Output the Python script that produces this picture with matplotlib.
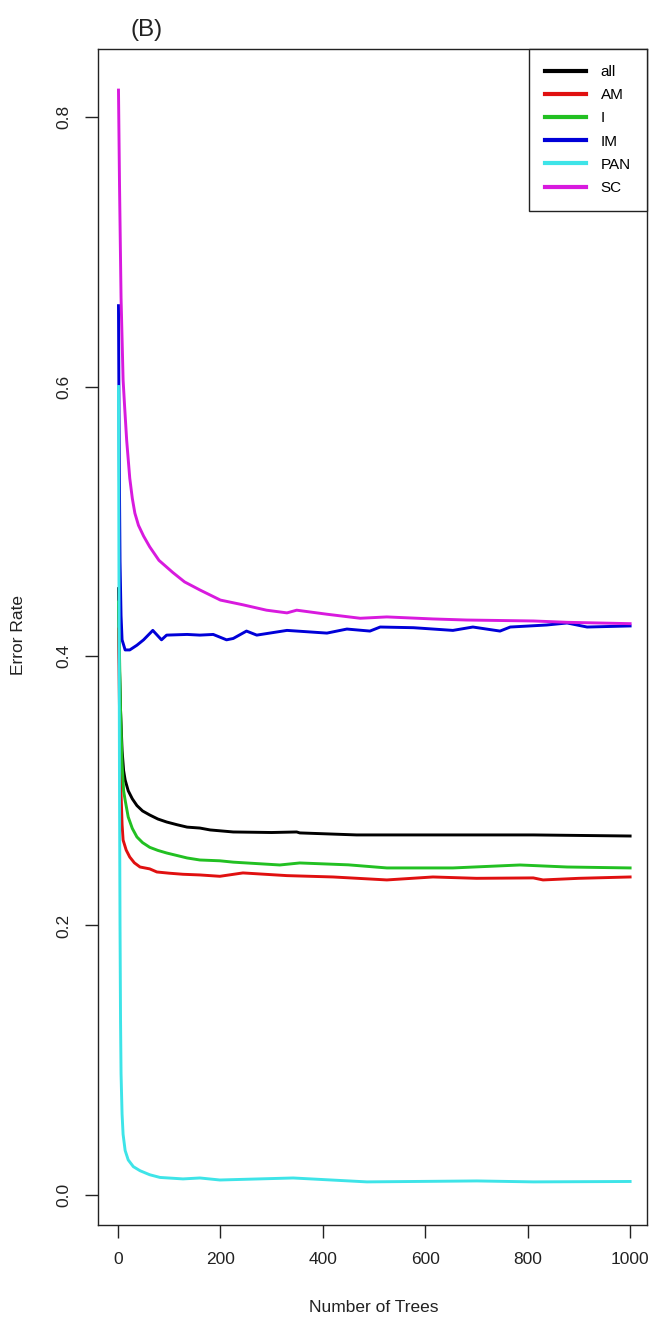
import matplotlib
matplotlib.use('Agg')
import matplotlib.pyplot as plt

plt.rcParams['font.family'] = ['Liberation Sans', 'DejaVu Sans']

# error rate per number of trees
labels = ['all', 'AM', 'I', 'IM', 'PAN', 'SC']
colors = ['#000000', '#e01010', '#22c022', '#0000d8', '#3ee4e8', '#d81ade']

trees_all = [1, 2, 3, 5, 8, 11, 14, 20, 28, 37, 48, 62, 78, 95, 115, 135, 160, 180, 225, 300, 349, 355, 466,
             615, 811, 1000]
err_all = [0.45, 0.42, 0.39, 0.36, 0.33, 0.315, 0.308, 0.300, 0.294, 0.289, 0.285, 0.282, 0.279, 0.2768,
           0.2748, 0.273, 0.2723, 0.2709, 0.2694, 0.2690, 0.2694, 0.2687, 0.2672, 0.2672, 0.2672, 0.2664]

trees_am = [1, 3, 5, 8, 10, 16, 23, 32, 43, 62, 76, 100, 127, 160, 199, 244, 330, 420, 525, 615, 700, 811,
            830, 900, 1000]
err_am = [0.42, 0.36, 0.31, 0.275, 0.2634, 0.256, 0.2508, 0.2465, 0.2434, 0.2420, 0.2397, 0.2388, 0.2380,
          0.2375, 0.2365, 0.2390, 0.2370, 0.2360, 0.2338, 0.2360, 0.2350, 0.2353, 0.2338, 0.2350, 0.2360]

trees_i = [1, 3, 5, 8, 11, 14, 20, 28, 37, 48, 62, 78, 95, 135, 160, 199, 225, 316, 355, 450, 525, 654, 785,
           877, 1000]
err_i = [0.44, 0.40, 0.36, 0.32, 0.30, 0.293, 0.2805, 0.272, 0.2657, 0.2615, 0.258, 0.2557, 0.2538, 0.2501,
         0.2486, 0.2480, 0.2470, 0.2449, 0.2464, 0.2450, 0.2427, 0.2427, 0.2449, 0.2434, 0.2427]

trees_im = [1, 2, 3, 4, 6, 8, 14, 23, 37, 50, 68, 85, 95, 135, 160, 186, 212, 225, 251, 271, 330, 408, 447,
            492, 512, 577, 654, 693, 746, 766, 837, 877, 916, 1000]
err_im = [0.66, 0.58, 0.52, 0.47, 0.43, 0.412, 0.4045, 0.4045, 0.408, 0.412, 0.419, 0.412, 0.4155, 0.416,
          0.4155, 0.416, 0.412, 0.413, 0.4185, 0.4155, 0.419, 0.417, 0.420, 0.4185, 0.4215, 0.421, 0.419,
          0.4215, 0.4185, 0.4215, 0.423, 0.4245, 0.4215, 0.4223]

trees_pan = [1, 2, 3, 4, 5, 6, 8, 10, 14, 20, 30, 43, 62, 82, 127, 160, 199, 342, 486, 701, 811, 1000]
err_pan = [0.60, 0.45, 0.30, 0.20, 0.13, 0.09, 0.06, 0.045, 0.033, 0.026, 0.021, 0.018, 0.015, 0.013, 0.0119,
           0.0126, 0.0111, 0.0126, 0.0097, 0.0104, 0.0097, 0.0100]

trees_sc = [1, 3, 6, 10, 13, 17, 23, 28, 33, 40, 50, 62, 80, 107, 130, 160, 200, 244, 290, 330, 349, 408, 473,
            525, 615, 681, 811, 877, 1000]
err_sc = [0.82, 0.75, 0.666, 0.605, 0.585, 0.56, 0.532, 0.517, 0.506, 0.497, 0.489, 0.481, 0.471, 0.462, 0.455,
          0.449, 0.4415, 0.438, 0.434, 0.432, 0.434, 0.431, 0.428, 0.429, 0.4275, 0.4267, 0.426, 0.425, 0.424]

xs = [trees_all, trees_am, trees_i, trees_im, trees_pan, trees_sc]
ys = [err_all, err_am, err_i, err_im, err_pan, err_sc]

fig = plt.figure(figsize=(6.5, 13.22), dpi=100)
ax = fig.add_axes([98 / 650, 1 - 1225 / 1322, 549 / 650, 1176 / 1322])

for x, y, c, lab in zip(xs, ys, colors, labels):
    ax.plot(x, y, color=c, lw=2.1, label=lab, solid_joinstyle='round')

ax.set_xlim(-39, 1033)
ax.set_ylim(-0.0223, 0.8505)
ax.set_xticks([0, 200, 400, 600, 800, 1000])
ax.set_yticks([0.0, 0.2, 0.4, 0.6, 0.8])
ax.set_yticklabels(['0.0', '0.2', '0.4', '0.6', '0.8'], rotation=90, va='center')
ax.tick_params(length=9.4, width=1, pad=10, labelsize=12.5, colors='#222222')
for s in ax.spines.values():
    s.set_linewidth(1)
    s.set_color('#222222')

fig.text(19 / 650, 1 - 635 / 1322, 'Error Rate', rotation=90, ha='center', va='center', fontsize=12.5,
         color='#222222')
fig.text(374 / 650, 1 - 1307 / 1322, 'Number of Trees', ha='center', va='center', fontsize=12.5,
         color='#222222')
fig.text(130 / 650, 1 - 30 / 1322, '(B)', ha='left', va='center', fontsize=17.5, color='#222222')

leg = ax.legend(loc='upper right', bbox_to_anchor=(1, 1), borderaxespad=0, fancybox=False,
                fontsize=11, handlelength=2.7, handletextpad=0.95, labelspacing=0.6,
                borderpad=1.05, framealpha=1)
leg.get_frame().set_edgecolor('#222222')
leg.get_frame().set_linewidth(1)
for h in leg.get_lines():
    h.set_linewidth(3)

fig.savefig('out.png', dpi=100)
